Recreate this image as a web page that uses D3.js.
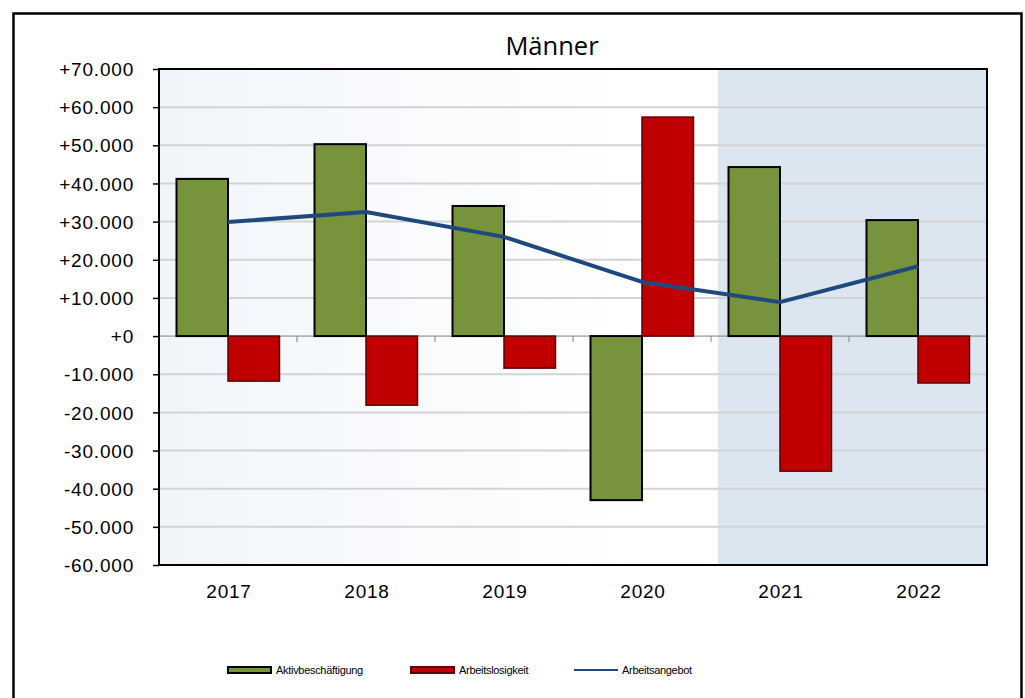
<!DOCTYPE html>
<html lang="de">
<head>
<meta charset="UTF-8">
<title>Männer</title>
<script src="https://d3js.org/d3.v7.min.js"></script>
<style>
  * { margin: 0; padding: 0; }
  body { background: #fff; width: 1025px; height: 698px; overflow: hidden; }
  .axis text { font-family: "Liberation Sans", Arial, sans-serif; font-size: 19px; fill: #000; letter-spacing: 0.8px; }
  .legend text { font-family: "Liberation Sans", Arial, sans-serif; font-size: 11px; fill: #000; letter-spacing: -0.3px; }
</style>
</head>
<body>
<div id="chart"></div>
<script>
// data
const years = ["2017", "2018", "2019", "2020", "2021", "2022"];
const aktiv = [41200, 50300, 34100, -43000, 44300, 30400];
const arbeitslos = [-11800, -18100, -8400, 57400, -35400, -12300];
const angebot = [29900, 32500, 26000, 14200, 8900, 18300];
const yTicks = [70000, 60000, 50000, 40000, 30000, 20000, 10000, 0, -10000, -20000, -30000, -40000, -50000, -60000];
const shadedYears = ["2021", "2022"];

const W = 1025, H = 698;
const plot = { left: 159, top: 69, right: 987, bottom: 565 };

const svg = d3.select("#chart").append("svg")
    .attr("width", W)
    .attr("height", H);

const defs = svg.append("defs");
const grad = defs.append("linearGradient").attr("id", "bgGrad");
grad.append("stop").attr("offset", "0%").attr("stop-color", "#f1f5fa");
grad.append("stop").attr("offset", "85%").attr("stop-color", "#ffffff");

// outer frame
svg.append("rect")
    .attr("x", 13.5).attr("y", 13.5)
    .attr("width", 1008).attr("height", 700)
    .attr("fill", "none").attr("stroke", "#000").attr("stroke-width", 2.5);

const x = d3.scaleBand()
    .domain(years)
    .range([plot.left, plot.right])
    .paddingInner(0).paddingOuter(0);

const xs = d3.scaleBand()
    .domain(["aktiv", "arbeitslos"])
    .range([0, x.bandwidth()])
    .paddingOuter(0.34).paddingInner(0);

const y = d3.scaleLinear()
    .domain([-60000, 70000])
    .range([plot.bottom, plot.top]);

// background
const shadeStart = x(shadedYears[0]) + 7;
svg.append("rect")
    .attr("x", plot.left).attr("y", plot.top)
    .attr("width", shadeStart - plot.left).attr("height", plot.bottom - plot.top)
    .attr("fill", "url(#bgGrad)");
svg.append("rect")
    .attr("x", shadeStart).attr("y", plot.top)
    .attr("width", plot.right - shadeStart).attr("height", plot.bottom - plot.top)
    .attr("fill", "#dce6f1");

// grid
svg.append("g")
    .selectAll("line")
    .data(yTicks.filter(d => d !== 0 && d !== 70000 && d !== -60000))
    .join("line")
    .attr("x1", plot.left).attr("x2", plot.right)
    .attr("y1", d => y(d)).attr("y2", d => y(d))
    .attr("stroke", "#d3d3d3").attr("stroke-width", 2);

// zero line with category ticks
svg.append("line")
    .attr("x1", plot.left).attr("x2", plot.right)
    .attr("y1", y(0)).attr("y2", y(0))
    .attr("stroke", "#808080").attr("stroke-width", 1);
svg.append("g")
    .selectAll("line")
    .data(years.slice(1))
    .join("line")
    .attr("x1", d => x(d)).attr("x2", d => x(d))
    .attr("y1", y(0)).attr("y2", y(0) + 6)
    .attr("stroke", "#808080").attr("stroke-width", 1);

// bars
const g = svg.append("g");
g.selectAll(".aktiv")
    .data(aktiv)
    .join("rect")
    .attr("class", "aktiv")
    .attr("x", (d, i) => x(years[i]) + xs("aktiv"))
    .attr("y", d => y(Math.max(0, d)))
    .attr("width", xs.bandwidth())
    .attr("height", d => Math.abs(y(d) - y(0)))
    .attr("fill", "#77933c")
    .attr("stroke", "#000").attr("stroke-width", 2);

g.selectAll(".arbeitslos")
    .data(arbeitslos)
    .join("rect")
    .attr("class", "arbeitslos")
    .attr("x", (d, i) => x(years[i]) + xs("arbeitslos"))
    .attr("y", d => y(Math.max(0, d)))
    .attr("width", xs.bandwidth())
    .attr("height", d => Math.abs(y(d) - y(0)))
    .attr("fill", "#c00000")
    .attr("stroke", "#5c0000").attr("stroke-width", 1.5);

// line
const line = d3.line()
    .x((d, i) => x(years[i]) + x.bandwidth() / 2)
    .y(d => y(d));
svg.append("path")
    .datum(angebot)
    .attr("d", line)
    .attr("fill", "none")
    .attr("stroke", "#1f497d")
    .attr("stroke-width", 4)
    .attr("stroke-linejoin", "round");

// plot border
svg.append("rect")
    .attr("x", plot.left).attr("y", plot.top)
    .attr("width", plot.right - plot.left).attr("height", plot.bottom - plot.top)
    .attr("fill", "none").attr("stroke", "#000").attr("stroke-width", 2);

// y axis
const fmt = d => (d >= 0 ? "+" : "-") + d3.format(",")(Math.abs(d)).replace(/,/g, ".");
const yAxis = svg.append("g")
    .attr("class", "axis")
    .attr("transform", `translate(${plot.left},0)`)
    .call(d3.axisLeft(y).tickValues(yTicks).tickSize(6).tickPadding(19).tickFormat(fmt));
yAxis.select(".domain").remove();
yAxis.selectAll("line").attr("stroke", "#000").attr("stroke-width", 1.5);
yAxis.selectAll("text").attr("dy", "0.35em");

// x labels
svg.append("g")
    .attr("class", "axis")
    .selectAll("text")
    .data(years)
    .join("text")
    .attr("x", d => x(d) + x.bandwidth() / 2 + 1)
    .attr("y", 598)
    .attr("text-anchor", "middle")
    .text(d => d);

// title
svg.append("text")
    .attr("x", 552).attr("y", 55)
    .attr("text-anchor", "middle")
    .style("font-family", "'Open Sans', 'Noto Sans', sans-serif")
    .style("font-size", "25.5px")
    .text("Männer");

// legend
const legend = svg.append("g").attr("class", "legend");
const legendItems = [
    { label: "Aktivbeschäftigung", type: "bar", fill: "#77933c", stroke: "#000", x: 228 },
    { label: "Arbeitslosigkeit", type: "bar", fill: "#c00000", stroke: "#5c0000", x: 411 },
    { label: "Arbeitsangebot", type: "line", stroke: "#1f497d", x: 574 }
];
legendItems.forEach(it => {
    const row = legend.append("g").attr("transform", `translate(${it.x},670)`);
    if (it.type === "bar") {
        row.append("rect")
            .attr("x", 0).attr("y", -3).attr("width", 43).attr("height", 6)
            .attr("fill", it.fill).attr("stroke", it.stroke).attr("stroke-width", 2);
    } else {
        row.append("line")
            .attr("x1", 0).attr("x2", 44).attr("y1", 0).attr("y2", 0)
            .attr("stroke", it.stroke).attr("stroke-width", 2);
    }
    row.append("text")
        .attr("x", 48)
        .attr("y", 4)
        .text(it.label);
});
</script>
</body>
</html>
